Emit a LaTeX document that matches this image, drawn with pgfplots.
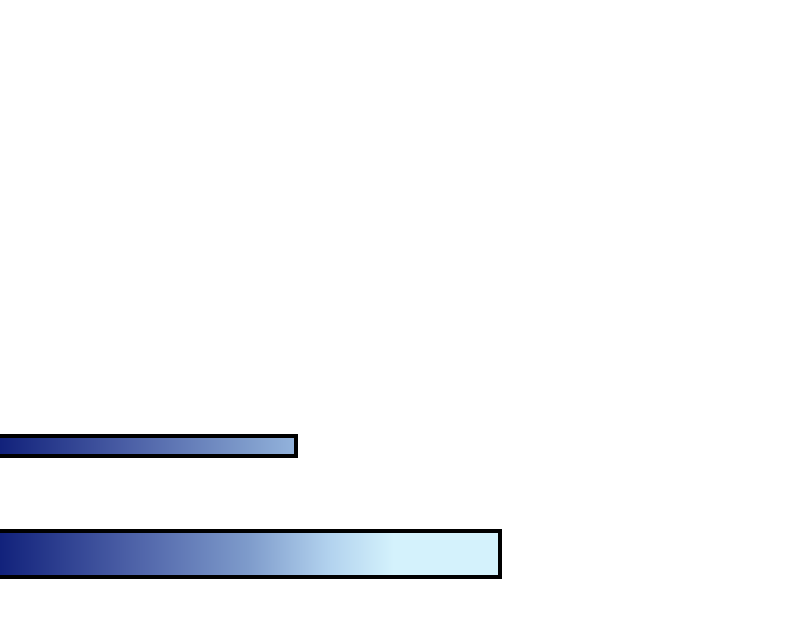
\documentclass[border=0pt]{standalone}
\usepackage{pgfplots}
\pgfplotsset{compat=1.18}
\definecolor{c0}{HTML}{10207A}
\definecolor{c1}{HTML}{4B5FA6}
\definecolor{c2}{HTML}{7E9BCB}
\definecolor{c3}{HTML}{B2D2EE}
\definecolor{c4}{HTML}{D4F2FC}
\definecolor{c5}{HTML}{93B3DC}
\pgfdeclarehorizontalshading{bartwo}{100bp}{color(0bp)=(c0); color(25bp)=(c0); color(38bp)=(c1); color(50bp)=(c2); color(58bp)=(c3); color(64.5bp)=(c4); color(100bp)=(c4)}
\pgfdeclarehorizontalshading{barone}{100bp}{color(0bp)=(c0); color(25bp)=(c0); color(47bp)=(c1); color(67bp)=(c2); color(75bp)=(c5); color(100bp)=(c5)}
\begin{document}
\begin{tikzpicture}
\useasboundingbox (0,0) rectangle (800bp,627bp);
\begin{axis}[
  at={(-4bp,0)}, anchor=south west,
  scale only axis, width=804bp, height=627bp,
  xmin=0, xmax=804, ymin=0, ymax=627,
  hide axis, clip=false,
]
\addplot[xbar, bar shift=0pt, bar width=20bp, draw=black, line width=4bp, shade, shading=barone] coordinates {(299.5,180.5)};
\addplot[xbar, bar shift=0pt, bar width=46bp, draw=black, line width=4bp, shade, shading=bartwo] coordinates {(503.5,72.5)};
\end{axis}
\end{tikzpicture}
\end{document}
